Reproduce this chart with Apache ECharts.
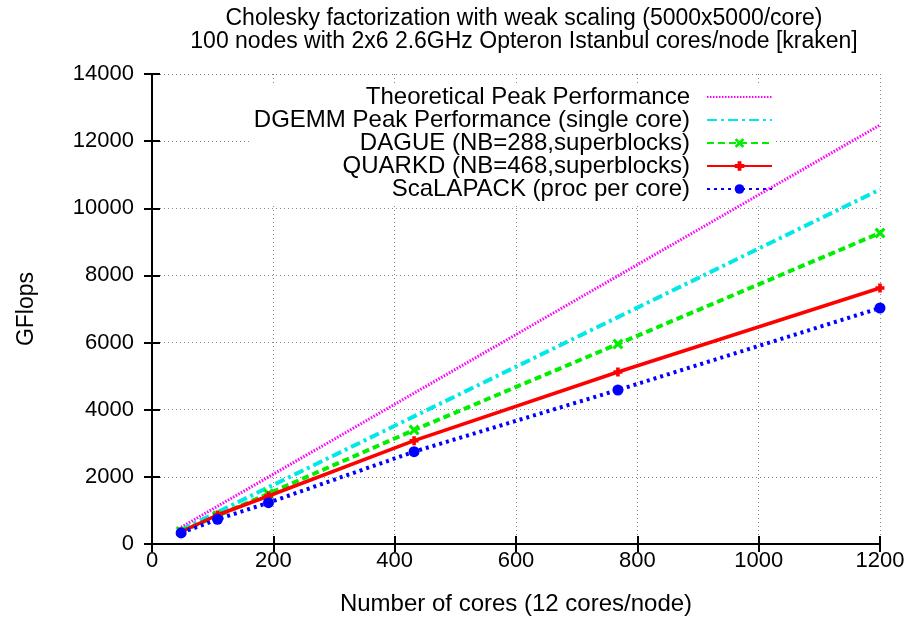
<!DOCTYPE html>
<html>
<head>
<meta charset="utf-8">
<script src="https://cdn.jsdelivr.net/npm/echarts@6/dist/echarts.min.js"></script>
<style>html,body{margin:0;padding:0;background:#fff}#c{width:915px;height:621px}</style>
</head>
<body>
<div id="c"></div>
<script>
const cores = [48, 108, 192, 432, 768, 1200];
const theoreticalPeak = [499, 1123, 1997, 4493, 7987, 12480];
const dgemmPeak = [422, 950, 1690, 3802, 6758, 10560];
const dague = [375, 840, 1500, 3395, 5958, 9264];
const quarkd = [365, 864, 1430, 3077, 5124, 7626];
const scalapack = [330, 736, 1230, 2750, 4587, 7030];
const xTicks = [0, 200, 400, 600, 800, 1000, 1200];
const yTicks = [0, 2000, 4000, 6000, 8000, 10000, 12000, 14000];

const FONT = 'Liberation Sans, Arial, sans-serif';
const pairs = (ys) => cores.map((x, i) => [x, ys[i]]);

const crossPath = 'path://M0,2 L2,0 L5,3 L8,0 L10,2 L7,5 L10,8 L8,10 L5,7 L2,10 L0,8 L3,5 Z';
const plusPath = 'path://M3,0 L7,0 L7,3 L10,3 L10,7 L7,7 L7,10 L3,10 L3,7 L0,7 L0,3 L3,3 Z';

const chart = echarts.init(document.getElementById('c'), null, {renderer: 'canvas'});
const axisCommon = {
  axisLine: {show: true, lineStyle: {color: '#000', width: 2}},
  axisTick: {show: true, inside: true, length: 8, lineStyle: {color: '#000', width: 2}},
};
const plain = (v) => String(v);
chart.setOption({
  animation: false,
  backgroundColor: '#fff',
  title: {
    text: 'Cholesky factorization with weak scaling (5000x5000/core)\n100 nodes with 2x6 2.6GHz Opteron Istanbul cores/node [kraken]',
    left: 519, top: 2, textAlign: 'center',
    textStyle: {fontFamily: FONT, fontSize: 23, fontWeight: 'normal', color: '#000', lineHeight: 23}
  },
  legend: {
    orient: 'vertical', right: 140, top: 85, align: 'right', z: 1,
    itemWidth: 65, itemHeight: 12, itemGap: -1,
    backgroundColor: '#fff', padding: [0, 2, 4, 2],
    textStyle: {fontFamily: FONT, fontSize: 24, color: '#000', lineHeight: 22, padding: [0, 12, 0, 0]},
    data: [
      {name: 'Theoretical Peak Performance', itemStyle: {opacity: 0}},
      {name: 'DGEMM Peak Performance (single core)', itemStyle: {opacity: 0}},
      'DAGUE (NB=288,superblocks)', 'QUARKD (NB=468,superblocks)', 'ScaLAPACK (proc per core)'
    ]
  },
  grid: {left: 152, right: 35, top: 74, bottom: 77, show: false},
  xAxis: [
    Object.assign({
      type: 'value', min: 0, max: 1200, interval: 200, position: 'bottom',
      name: 'Number of cores (12 cores/node)', nameLocation: 'middle', nameGap: 48,
      nameTextStyle: {fontFamily: FONT, fontSize: 24, color: '#000'},
      axisLabel: {fontFamily: FONT, fontSize: 22, color: '#000', margin: 6, formatter: plain},
      splitLine: {show: true, lineStyle: {color: '#888', type: [1, 3], width: 1}}
    }, axisCommon),
    Object.assign({
      type: 'value', min: 0, max: 1200, interval: 200, position: 'top',
      axisLabel: {show: false}, splitLine: {show: false}
    }, axisCommon)
  ],
  yAxis: [
    Object.assign({
      type: 'value', min: 0, max: 14000, interval: 2000, position: 'left',
      name: 'GFlops', nameLocation: 'middle', nameGap: 114, nameRotate: 90,
      nameTextStyle: {fontFamily: FONT, fontSize: 23, color: '#000'},
      axisLabel: {fontFamily: FONT, fontSize: 22, color: '#000', margin: 18, formatter: plain},
      splitLine: {show: true, lineStyle: {color: '#888', type: [1, 3], width: 1}}
    }, axisCommon),
    Object.assign({
      type: 'value', min: 0, max: 14000, interval: 2000, position: 'right',
      axisLabel: {show: false}, splitLine: {show: false}
    }, axisCommon)
  ],
  series: [
    {name: 'Theoretical Peak Performance', type: 'line', data: pairs(theoreticalPeak),
     symbol: 'none', color: '#ff00ff', lineStyle: {color: '#ff00ff', width: 3, type: [1.5, 1.5]}, z: 2},
    {name: 'DGEMM Peak Performance (single core)', type: 'line', data: pairs(dgemmPeak),
     symbol: 'none', color: '#00e8e8', lineStyle: {color: '#00e8e8', width: 4, type: [10, 4, 3, 4]}, z: 3},
    {name: 'DAGUE (NB=288,superblocks)', type: 'line', data: pairs(dague),
     symbol: crossPath, symbolSize: 11, showSymbol: true, color: '#00ee00',
     itemStyle: {color: '#00ee00'}, lineStyle: {color: '#00ee00', width: 4, type: [7, 4]}, z: 4},
    {name: 'QUARKD (NB=468,superblocks)', type: 'line', data: pairs(quarkd),
     symbol: plusPath, symbolSize: 9, color: '#ff0000',
     itemStyle: {color: '#ff0000'}, lineStyle: {color: '#ff0000', width: 3.5, type: 'solid'}, z: 5},
    {name: 'ScaLAPACK (proc per core)', type: 'line', data: pairs(scalapack),
     symbol: 'circle', symbolSize: 11, color: '#0000ff',
     itemStyle: {color: '#0000ff'}, lineStyle: {color: '#0000ff', width: 4, type: [3, 4]}, z: 6}
  ]
});
</script>
</body>
</html>
